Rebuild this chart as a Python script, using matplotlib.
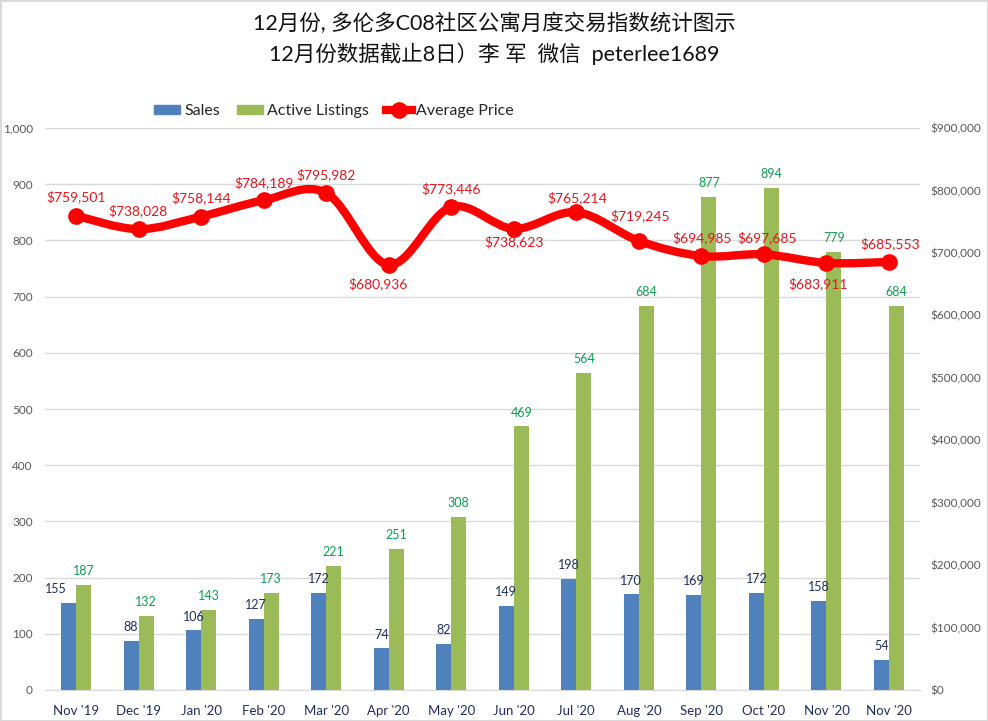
import numpy as np
import matplotlib
matplotlib.use("Agg")
import matplotlib.pyplot as plt
from matplotlib.lines import Line2D
from matplotlib.patches import PathPatch
from matplotlib.path import Path
from matplotlib.ticker import FuncFormatter

plt.rcParams['font.family'] = ['Lato', 'Noto Sans CJK SC', 'DejaVu Sans']

months = ["Nov '19", "Dec '19", "Jan '20", "Feb '20", "Mar '20", "Apr '20", "May '20",
          "Jun '20", "Jul '20", "Aug '20", "Sep '20", "Oct '20", "Nov '20", "Nov '20"]
sales = [155, 88, 106, 127, 172, 74, 82, 149, 198, 170, 169, 172, 158, 54]
listings = [187, 132, 143, 173, 221, 251, 308, 469, 564, 684, 877, 894, 779, 684]
price = [759501, 738028, 758144, 784189, 795982, 680936, 773446,
         738623, 765214, 719245, 694985, 697685, 683911, 685553]

# label offsets from each price point, in pixels
price_off = [(0, 19), (-1, 18), (0, 19), (0, 18), (0, 18), (-11, -19), (0, 18),
             (0, -13), (1, 14), (1, 25), (1, 18), (3, 17), (-8, -21), (1, 18)]
sales_off = [-13, 0, 0, 0, 0, 0, 0, 0, 0, 0, 0, 0, 0, 0]

BLUE = '#4F81BD'
GREEN = '#9BBB59'
RED = '#FF0000'
NAVY = '#1F2F5F'
GRID = '#D9D9D9'
W, H = 988, 721

fig = plt.figure(figsize=(W / 100, H / 100), dpi=100)
ax = fig.add_axes([44.75 / W, 1 - 690 / H, (920.25 - 44.75) / W, (690 - 128) / H])
x = np.arange(len(months))
width = 0.24

ax.bar(x - width / 2, sales, width, color=BLUE, zorder=2)
ax.bar(x + width / 2, listings, width, color=GREEN, zorder=2)
ax.set_xlim(-0.5, 13.5)
ax.set_ylim(0, 1000)
ax.set_yticks(range(0, 1001, 100))
ax.yaxis.set_major_formatter(FuncFormatter(lambda v, p: f"{int(v):,}"))
ax.set_xticks(x)
ax.set_xticklabels(months, color=NAVY, fontsize=9.5)
ax.grid(axis='y', color=GRID, linewidth=1, zorder=0)
ax.set_axisbelow(True)
ax.tick_params(axis='y', length=0, labelsize=8.5, labelcolor='#595959', pad=8.6)
ax.tick_params(axis='x', length=0, pad=10.5)
for s in ax.spines.values():
    s.set_visible(False)
ax.spines['bottom'].set_visible(True)
ax.spines['bottom'].set_color(GRID)

ax2 = ax.twinx()
ax2.set_ylim(0, 900000)
ax2.set_yticks(range(0, 900001, 100000))
ax2.yaxis.set_major_formatter(FuncFormatter(lambda v, p: f"${int(v):,}"))
ax2.tick_params(axis='y', length=0, labelsize=8.5, labelcolor='#595959', pad=7)
for s in ax2.spines.values():
    s.set_visible(False)

# smoothed line like Excel, bezier through the data points
pts = np.column_stack([x, price]).astype(float)
verts = [pts[0]]
codes = [Path.MOVETO]
for i in range(len(pts) - 1):
    p0 = pts[max(i - 1, 0)]
    p1 = pts[i]
    p2 = pts[i + 1]
    p3 = pts[min(i + 2, len(pts) - 1)]
    verts += [p1 + (p2 - p0) / 6, p2 - (p3 - p1) / 6, p2]
    codes += [Path.CURVE4] * 3
ax2.add_patch(PathPatch(Path(verts, codes), fill=False, edgecolor=RED, linewidth=6,
                        capstyle='round', zorder=3))
ax2.plot(x, price, linestyle='none', marker='o', markersize=11, color=RED, zorder=4)

for i in range(len(x)):
    ax2.annotate(f"${price[i]:,}", (x[i], price[i]), xytext=(price_off[i][0] * 0.72, price_off[i][1] * 0.72),
                 textcoords='offset points', ha='center', va='center', color='#E8141C',
                 fontsize=10, zorder=5)
    ax2.annotate(str(sales[i]), (x[i] - width / 2, sales[i] * 900), xytext=(sales_off[i] * 0.72, 10),
                 textcoords='offset points', ha='center', va='center', color=NAVY,
                 fontsize=9, zorder=5)
    ax2.annotate(str(listings[i]), (x[i] + width / 2, listings[i] * 900), xytext=(0, 10),
                 textcoords='offset points', ha='center', va='center', color='#0E9F4F',
                 fontsize=9, zorder=5)

handles = [plt.Rectangle((0, 0), 1, 1, color=BLUE),
           plt.Rectangle((0, 0), 1, 1, color=GREEN),
           Line2D([0], [0], color=RED, linewidth=6, marker='o', markersize=11)]
fig.legend(handles, ['Sales', 'Active Listings', 'Average Price'], ncol=3, frameon=False,
           loc='center', bbox_to_anchor=(334 / W, 1 - 111 / H), fontsize=11.5, labelcolor='#262626',
           handlelength=1.6, handleheight=0.5, handletextpad=0.25, columnspacing=1.1, borderpad=0)

fig.text(494 / W, 1 - 24 / H, "12月份, 多伦多C08社区公寓月度交易指数统计图示", ha='center', va='center',
         fontsize=15.5, color='#111111')
fig.text(494 / W, 1 - 54 / H, "12月份数据截止8日）李 军  微信  peterlee1689", ha='center', va='center',
         fontsize=15.5, color='#111111')

fig.patch.set_edgecolor('#D9D9D9')
fig.patch.set_linewidth(2)
fig.savefig("out.png", dpi=100, edgecolor=fig.get_edgecolor())
